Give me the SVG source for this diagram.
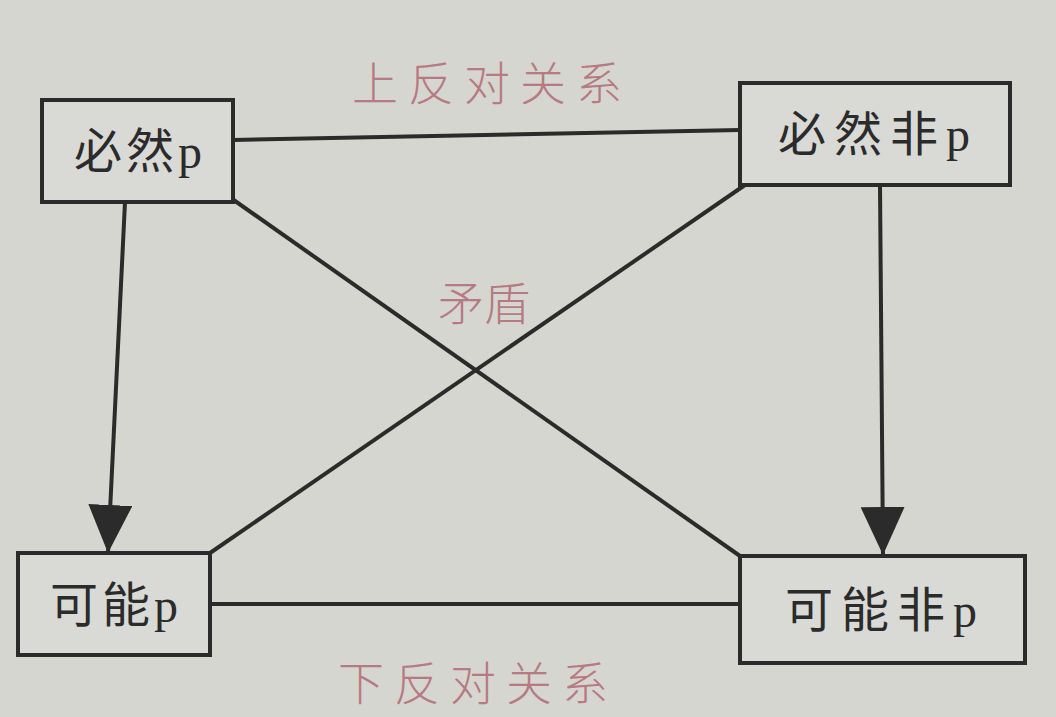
<svg xmlns="http://www.w3.org/2000/svg" width="1056" height="717" viewBox="0 0 1056 717">
<defs>
<style>
.box{fill:#d9d9d5;stroke:#2b2b2b;stroke-width:4}
.lbl{font-family:"Liberation Serif","Noto Sans CJK SC",serif;font-size:48px;fill:#2b2b2b}
.red{font-family:"Noto Sans CJK SC",serif;font-size:46px;fill:#b87a82;font-weight:300}
.ln{stroke:#2b2b2b;stroke-width:4;fill:none}
</style>
<marker id="ah2" viewBox="0 0 48 44" refX="48" refY="22" markerWidth="48" markerHeight="44" markerUnits="userSpaceOnUse" orient="auto">
<path d="M0,0 L48,22 L0,44 Z" fill="#2b2b2b"/>
</marker>
</defs>
<rect width="1056" height="717" fill="#d6d6d1"/>
<g id="connectors">
<line class="ln" x1="233" y1="140" x2="740" y2="130"/>
<line class="ln" x1="210" y1="604" x2="740" y2="604"/>
<line class="ln" x1="228" y1="196" x2="740" y2="556"/>
<line class="ln" x1="745" y1="185" x2="210" y2="553"/>
<line class="ln" x1="125" y1="202" x2="108" y2="553" marker-end="url(#ah2)"/>
<line class="ln" x1="880" y1="185" x2="883" y2="555" marker-end="url(#ah2)"/>
</g>
<g id="n1"><rect class="box" x="42" y="100" width="191" height="102"/><text class="lbl" x="140" y="168" text-anchor="middle" letter-spacing="4">必然p</text></g>
<g id="n2"><rect class="box" x="740" y="83" width="270" height="102"/><text class="lbl" x="878" y="151" text-anchor="middle" letter-spacing="8">必然非p</text></g>
<g id="n3"><rect class="box" x="18" y="553" width="192" height="102"/><text class="lbl" x="116" y="622" text-anchor="middle" letter-spacing="4">可能p</text></g>
<g id="n4"><rect class="box" x="740" y="556" width="285" height="107"/><text class="lbl" x="885" y="627" text-anchor="middle" letter-spacing="8">可能非p</text></g>
<text class="red" x="492" y="100" text-anchor="middle" letter-spacing="10">上反对关系</text>
<text class="red" x="484" y="320" text-anchor="middle">矛盾</text>
<text class="red" x="478" y="700" text-anchor="middle" letter-spacing="10">下反对关系</text>
</svg>
